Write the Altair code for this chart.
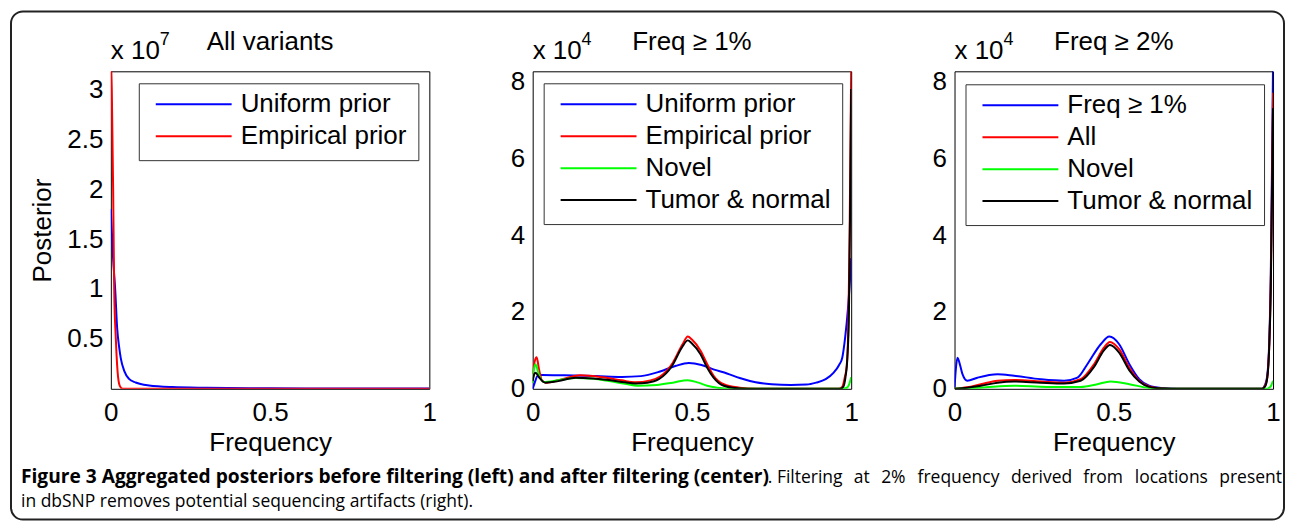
import altair as alt
import pandas as pd

FONT = "Liberation Sans"
CAP_FONT = "Open Sans"

# ---------------- Left panel: All variants (posterior, units of 1e7) ----------------
L_NAMES = ["Uniform prior", "Empirical prior"]
L_COLORS = ["#0000FF", "#FF0000"]
L_UNI_X = [0.0, 0.007, 0.0136, 0.02, 0.026, 0.031, 0.042, 0.057, 0.078, 0.12, 0.193, 0.3, 0.5, 0.75, 1.0]
L_UNI_V = [1.8, 1.31, 1.0, 0.6, 0.42, 0.31, 0.18, 0.10, 0.063, 0.033, 0.017, 0.01, 0.005, 0.003, 0.002]
L_EMP_X = [0.0, 0.003, 0.0073, 0.0105, 0.0157, 0.021, 0.028, 0.037, 0.2, 0.6, 1.0]
L_EMP_V = [3.3, 3.0, 1.98, 1.0, 0.5, 0.18, 0.03, 0.0, 0.0, 0.0, 0.0]
L_YTICKS = [0.5, 1, 1.5, 2, 2.5, 3]
L_YTOP = 3.18

# ---------------- Center panel: Freq >= 1% (units of 1e4) ----------------
C_NAMES = ["Uniform prior", "Empirical prior", "Novel", "Tumor & normal"]
C_COLORS = ["#0000FF", "#FF0000", "#00FF00", "#000000"]
C_UNI_X = [0.0, 0.006, 0.015, 0.03, 0.1, 0.2, 0.28, 0.34, 0.4, 0.45, 0.49, 0.53, 0.57, 0.61, 0.65,
           0.7, 0.75, 0.81, 0.86, 0.89, 0.92, 0.945, 0.962, 0.972, 0.981, 0.99, 0.996, 1.0]
C_UNI_V = [0.0, 0.15, 0.33, 0.36, 0.35, 0.33, 0.31, 0.33, 0.45, 0.6, 0.67, 0.62, 0.5, 0.4, 0.28,
           0.17, 0.12, 0.1, 0.11, 0.16, 0.25, 0.42, 0.62, 0.81, 1.33, 2.1, 2.8, 3.4]
C_EMP_X = [0.0, 0.006, 0.0125, 0.02, 0.03, 0.045, 0.08, 0.15, 0.22, 0.28, 0.32, 0.37, 0.4, 0.44, 0.47,
           0.487, 0.5, 0.527, 0.548, 0.568, 0.6, 0.65, 0.7, 0.96, 0.972, 0.98, 0.986, 0.991, 0.995, 1.0]
C_EMP_V = [0.38, 0.7, 0.82, 0.5, 0.2, 0.16, 0.22, 0.35, 0.3, 0.22, 0.17, 0.22, 0.32, 0.68, 1.15,
           1.36, 1.28, 0.99, 0.64, 0.34, 0.12, 0.03, 0.0, 0.0, 0.05, 0.3, 0.6, 1.6, 4.0, 8.4]
C_NOV_X = [0.0, 0.004, 0.009, 0.02, 0.035, 0.08, 0.135, 0.19, 0.24, 0.29, 0.33, 0.39, 0.44, 0.487,
           0.52, 0.548, 0.58, 0.62, 0.97, 0.985, 0.993, 1.0]
C_NOV_V = [0.15, 0.5, 0.64, 0.35, 0.18, 0.22, 0.28, 0.26, 0.2, 0.13, 0.08, 0.1, 0.16, 0.225,
           0.16, 0.08, 0.03, 0.0, 0.0, 0.02, 0.1, 0.3]
C_TN_X = [0.0, 0.005, 0.009, 0.02, 0.04, 0.08, 0.135, 0.19, 0.24, 0.29, 0.323, 0.36, 0.396, 0.438,
          0.469, 0.487, 0.5, 0.527, 0.548, 0.568, 0.6, 0.65, 0.7, 0.965, 0.975, 0.982, 0.988, 0.993,
          0.997, 1.0]
C_TN_V = [0.2, 0.38, 0.42, 0.3, 0.16, 0.2, 0.29, 0.27, 0.23, 0.17, 0.14, 0.16, 0.25, 0.6,
          1.08, 1.26, 1.18, 0.9, 0.55, 0.29, 0.08, 0.01, 0.0, 0.0, 0.05, 0.3, 0.8, 2.0,
          5.0, 7.8]

# ---------------- Right panel: Freq >= 2% (units of 1e4) ----------------
R_NAMES = ["Freq \u2265 1%", "All", "Novel", "Tumor & normal"]
R_COLORS = ["#0000FF", "#FF0000", "#00FF00", "#000000"]
R_F1_X = [0.0, 0.004, 0.0094, 0.018, 0.025, 0.04, 0.072, 0.135, 0.187, 0.27, 0.344, 0.386, 0.417,
          0.459, 0.486, 0.517, 0.549, 0.58, 0.611, 0.653, 0.7, 0.965, 0.975, 0.982, 0.988, 0.993,
          0.997, 1.0]
R_F1_V = [0.03, 0.5, 0.81, 0.6, 0.38, 0.21, 0.29, 0.38, 0.34, 0.25, 0.21, 0.29, 0.64,
          1.16, 1.36, 1.16, 0.64, 0.25, 0.08, 0.02, 0.0, 0.0, 0.1, 0.35, 1.2, 3.0,
          6.0, 8.4]
R_ALL_X = [0.0, 0.04, 0.083, 0.135, 0.187, 0.27, 0.344, 0.396, 0.438, 0.469, 0.488, 0.517, 0.549,
           0.58, 0.611, 0.653, 0.7, 0.965, 0.975, 0.982, 0.988, 0.993, 0.997, 1.0]
R_ALL_V = [0.0, 0.04, 0.12, 0.21, 0.23, 0.19, 0.16, 0.25, 0.64, 1.07, 1.22, 1.03, 0.55,
           0.21, 0.06, 0.01, 0.0, 0.0, 0.08, 0.3, 1.1, 2.8, 5.5, 7.7]
R_NOV_X = [0.0, 0.083, 0.187, 0.29, 0.396, 0.448, 0.49, 0.549, 0.611, 0.65, 0.98, 0.987, 0.994, 1.0]
R_NOV_V = [0.0, 0.03, 0.08, 0.05, 0.05, 0.12, 0.19, 0.12, 0.02, 0.0, 0.0, 0.02, 0.08, 0.21]
R_TN_X = R_ALL_X
R_TN_V = [0.0, 0.03, 0.08, 0.16, 0.19, 0.16, 0.14, 0.21, 0.57, 1.0, 1.14, 0.94, 0.48,
          0.19, 0.05, 0.01, 0.0, 0.0, 0.06, 0.29, 1.07, 2.6, 5.2, 7.3]

CR_YTICKS = [0, 2, 4, 6, 8]
CR_YTOP = 8.26
X_TICKS = [0, 0.5, 1]

CAPTION_BOLD = "Figure 3 Aggregated posteriors before filtering (left) and after filtering (center)"
CAPTION_REST1_WORDS = [". Filtering", "at", "2%", "frequency", "derived", "from", "locations", "present"]
CAPTION_LINE2 = "in dbSNP removes potential sequencing artifacts (right)."

# justified placement of the first caption line's words (left edges, last one right-aligned)
WORD_X = [658, 744, 771.5, 808, 901.5, 974, 1025.5, 1173]

W, H = 319, 318


def one():
    return pd.DataFrame({"a": [0]})


def txt(text, x, y, size=26, font=FONT, weight="normal", align="left"):
    return alt.Chart(pd.DataFrame({"t": [text]})).mark_text(
        font=font, fontSize=size, fontWeight=weight, align=align,
        baseline="alphabetic", color="black"
    ).encode(x=alt.value(x), y=alt.value(y), text="t:N")


def panel(series, names, colors, ytop, yticks, yfmt, ytitle, lx, ly, title, exponent):
    x_axis = alt.Axis(values=X_TICKS, format="~g", title="Frequency", labelPadding=32,
                      labelBaseline="alphabetic", labelFlush=False,
                      titleY=62, titleBaseline="alphabetic")
    if ytitle:
        y_axis = alt.Axis(values=yticks, format=yfmt, title=ytitle, labelPadding=8,
                          labelFlush=False, titleX=-60, titleY=159, titleBaseline="alphabetic")
    else:
        y_axis = alt.Axis(values=yticks, format=yfmt, title=None, labelPadding=8, labelFlush=False)
    legend = alt.Legend(
        title=None, orient="none", legendX=lx, legendY=ly, symbolType="stroke",
        symbolSize=5776, symbolStrokeWidth=2, clipHeight=20, rowPadding=6, padding=11,
        symbolOffset=5, labelOffset=8, labelFont=FONT, labelFontSize=26, labelColor="black",
        labelLimit=500, strokeColor="#333333", fillColor="white",
    )
    layers = []
    for name, xs, vs in series:
        df = pd.DataFrame({"x": xs, "v": vs, "series": name})
        layers.append(
            alt.Chart(df).mark_line(clip=True, interpolate="monotone", strokeWidth=2).encode(
                x=alt.X("x:Q", scale=alt.Scale(domain=[0, 1], nice=False, zero=False), axis=x_axis),
                y=alt.Y("v:Q", scale=alt.Scale(domain=[0, ytop], nice=False), axis=y_axis),
                color=alt.Color("series:N", scale=alt.Scale(domain=names, range=colors), legend=legend),
            )
        )
    layers.append(txt("x 10", 0, -12))
    layers.append(txt(exponent, 49, -26, size=18))
    layers.append(txt(title, W / 2, -21, align="center"))
    return layers


left_layers = panel(
    [(L_NAMES[0], L_UNI_X, L_UNI_V), (L_NAMES[1], L_EMP_X, L_EMP_V)],
    L_NAMES, L_COLORS, L_YTOP, L_YTICKS, "~g", "Posterior", 28, 12, "All variants", "7")

frame = alt.Chart(one()).mark_rect(
    fillOpacity=0, stroke="#222222", strokeWidth=2, cornerRadius=12
).encode(x=alt.value(-100), x2=alt.value(1175), y=alt.value(-60), y2=alt.value(449))

caption = [txt(CAPTION_BOLD, -90, 412.5, size=19.2, font=CAP_FONT, weight="bold")]
for i, (word, wx) in enumerate(zip(CAPTION_REST1_WORDS, WORD_X)):
    last = i == len(CAPTION_REST1_WORDS) - 1
    caption.append(txt(word, wx, 412.5, size=17.5, font=CAP_FONT, align="right" if last else "left"))
caption.append(txt(CAPTION_LINE2, -90, 436.5, size=17.5, font=CAP_FONT))

left = alt.layer(*left_layers, frame, *caption).properties(width=W, height=H)

center = alt.layer(*panel(
    [(C_NAMES[0], C_UNI_X, C_UNI_V), (C_NAMES[1], C_EMP_X, C_EMP_V),
     (C_NAMES[2], C_NOV_X, C_NOV_V), (C_NAMES[3], C_TN_X, C_TN_V)],
    C_NAMES, C_COLORS, CR_YTOP, CR_YTICKS, "d", None, 11, 12, "Freq \u2265 1%", "4"
)).properties(width=W, height=H)

right = alt.layer(*panel(
    [(R_NAMES[0], R_F1_X, R_F1_V), (R_NAMES[1], R_ALL_X, R_ALL_V),
     (R_NAMES[2], R_NOV_X, R_NOV_V), (R_NAMES[3], R_TN_X, R_TN_V)],
    R_NAMES, R_COLORS, CR_YTOP, CR_YTICKS, "d", None, 11, 13, "Freq \u2265 2%", "4"
)).properties(width=W, height=H)

chart = alt.hconcat(left, center, right, spacing=103.5, bounds="flush").resolve_scale(
    color="independent", x="independent", y="independent"
).resolve_legend(color="independent").properties(
    padding=1, background="white"
).configure_view(stroke="black", strokeWidth=1).configure_axis(
    domain=False, ticks=False, tickSize=0, grid=False, labelFont=FONT, labelFontSize=26,
    labelColor="black", titleFont=FONT, titleFontSize=26, titleFontWeight="normal",
    titleColor="black"
)

chart.save("out.html", embed_options={"renderer": "svg", "actions": False})
